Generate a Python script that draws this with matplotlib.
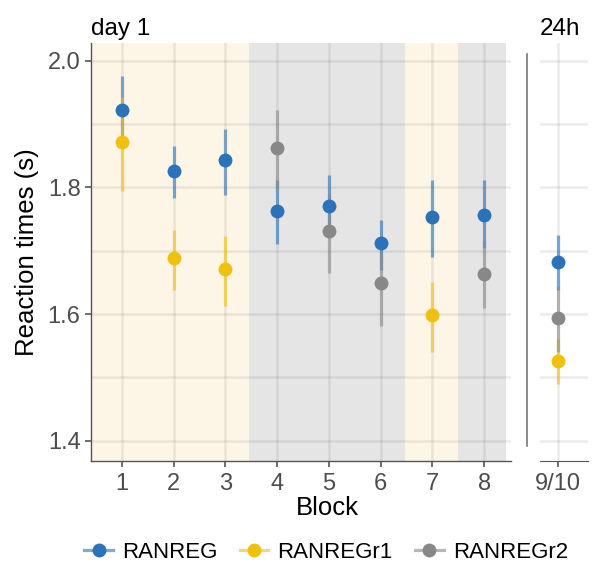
import numpy as np
import matplotlib.pyplot as plt
from matplotlib.lines import Line2D

plt.rcParams['font.family'] = ['Liberation Sans', 'DejaVu Sans']

#%% data
block_ticks = ['1', '2', '3', '4', '5', '6', '7', '8']

ranreg_x = [1, 2, 3, 4, 5, 6, 7, 8]
ranreg_y = [1.923, 1.826, 1.844, 1.763, 1.771, 1.712, 1.754, 1.757]
ranreg_lo = [1.870, 1.784, 1.788, 1.711, 1.721, 1.670, 1.690, 1.705]
ranreg_hi = [1.976, 1.866, 1.893, 1.812, 1.820, 1.749, 1.812, 1.812]

ranreg1_x = [1, 2, 3, 7]
ranreg1_y = [1.872, 1.689, 1.671, 1.599]
ranreg1_lo = [1.795, 1.638, 1.613, 1.540]
ranreg1_hi = [1.942, 1.733, 1.724, 1.651]

ranreg2_x = [4, 5, 6, 8]
ranreg2_y = [1.863, 1.731, 1.649, 1.664]
ranreg2_lo = [1.800, 1.665, 1.581, 1.610]
ranreg2_hi = [1.923, 1.790, 1.700, 1.715]

# 24h retention (blocks 9/10)
ret_label = '9/10'
ret_y = [1.683, 1.526, 1.594]
ret_lo = [1.638, 1.490, 1.540]
ret_hi = [1.725, 1.560, 1.645]

legend_labels = ['RANREG', 'RANREGr1', 'RANREGr2']
colors = ['#2B72B8', '#F0C00F', '#888888']

# background shading of the blocks
shade_edges = [0.4, 3.45, 6.47, 7.5, 8.43]
shade_cols = ['#FDF5E6', '#E5E5E5', '#FDF5E6', '#E5E5E5']

#%% figure
fig = plt.figure(figsize=(5.93, 5.64), dpi=100)
ax = fig.add_axes([91/593, 1 - 461/564, 420/593, 418/564])
ax2 = fig.add_axes([540/593, 1 - 461/564, 48/593, 418/564])

ylim = (1.368, 2.028)

for i in range(len(shade_cols)):
    ax.axvspan(shade_edges[i], shade_edges[i+1], color=shade_cols[i], lw=0, zorder=0)


def draw(a, x, y, lo, hi, c):
    for xi, lo_i, hi_i in zip(x, lo, hi):
        a.plot([xi, xi], [lo_i, hi_i], color=c, alpha=0.6, lw=2.3,
               solid_capstyle='butt', zorder=3)
    a.plot(x, y, 'o', color=c, ms=10, mec='none', zorder=4)


series = [(ranreg_x, ranreg_y, ranreg_lo, ranreg_hi),
          (ranreg1_x, ranreg1_y, ranreg1_lo, ranreg1_hi),
          (ranreg2_x, ranreg2_y, ranreg2_lo, ranreg2_hi)]
for (x, y, lo, hi), c in zip(series, colors):
    draw(ax, x, y, lo, hi, c)

for k, c in enumerate(colors):
    draw(ax2, [0], [ret_y[k]], [ret_lo[k]], [ret_hi[k]], c)

# left panel styling
ax.set_xlim(0.4, 8.52)
ax.set_ylim(*ylim)
ax.set_xticks(ranreg_x)
ax.set_xticklabels(block_ticks)
ax.set_yticks([1.4, 1.6, 1.8, 2.0])
ax.set_yticks([1.5, 1.7, 1.9], minor=True)
ax.grid(True, which='both', color='black', alpha=0.07, lw=1.8, zorder=1)
ax.set_axisbelow(True)
for s in ['top', 'right']:
    ax.spines[s].set_visible(False)
for s in ['left', 'bottom']:
    ax.spines[s].set_color('#555555')
    ax.spines[s].set_linewidth(1.0)
ax.tick_params(axis='both', which='major', labelsize=17, colors='#555555',
               labelcolor='#4D4D4D', length=4.5, width=1.2, pad=3)
ax.tick_params(axis='x', pad=4)
ax.tick_params(which='minor', length=0)
ax.set_ylabel('Reaction times (s)', fontsize=18.5, labelpad=6)
ax.set_title('day 1', loc='left', fontsize=17.5, pad=6)

# right panel styling
ax2.set_xlim(-0.6, 1.0)
ax2.set_ylim(*ylim)
ax2.set_xticks([0])
ax2.set_xticklabels([ret_label])
ax2.set_yticks([1.4, 1.6, 1.8, 2.0])
ax2.set_yticks([1.5, 1.7, 1.9], minor=True)
ax2.grid(True, which='both', color='black', alpha=0.08, lw=1.8, zorder=1)
ax2.set_axisbelow(True)
for s in ['top', 'right', 'left']:
    ax2.spines[s].set_visible(False)
ax2.spines['bottom'].set_color('#555555')
ax2.tick_params(axis='x', labelsize=17, colors='#555555', labelcolor='#4D4D4D',
                length=4.5, width=1.2, pad=4)
ax2.tick_params(axis='y', which='both', length=0, labelleft=False)
ax2.set_title('24h', loc='left', fontsize=17.5, pad=6)

# separator line between panels
fig.add_artist(Line2D([527/593, 527/593], [1 - 54/564, 1 - 446/564],
                      color='#777777', lw=1.2))

fig.text(327/593, 1 - 508/564, 'Block', ha='center', va='center', fontsize=18.5)

handles = [(Line2D([], [], color=c, lw=2.3, alpha=0.6),
            Line2D([], [], color=c, marker='o', ms=10, mec='none', lw=0))
           for c in colors]
fig.legend(handles, legend_labels, loc='center', ncol=3, frameon=False,
           bbox_to_anchor=(326/593, 1 - 552/564), fontsize=16,
           handlelength=1.3, handletextpad=0.4, columnspacing=1.0)

fig.savefig('out.png', dpi=100)
